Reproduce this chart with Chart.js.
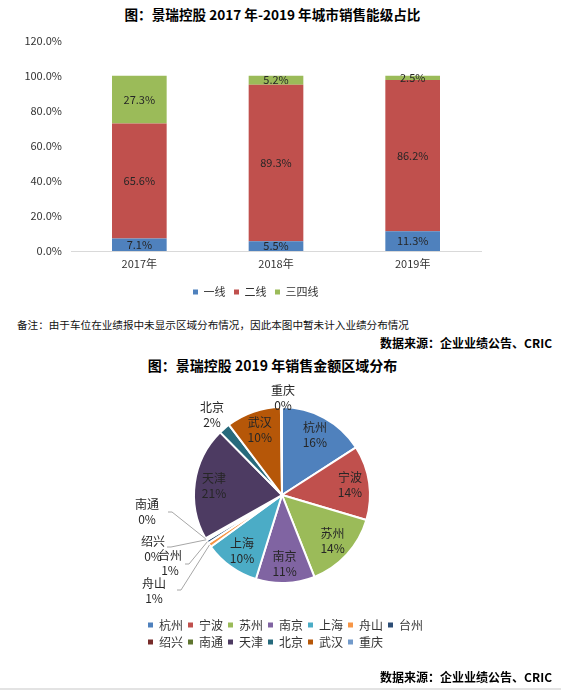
<!DOCTYPE html>
<html><head><meta charset="utf-8">
<script src="https://cdn.jsdelivr.net/npm/chart.js@4.4.1/dist/chart.umd.min.js"></script>
<style>
html,body{margin:0;padding:0;background:#fff;width:561px;height:690px;overflow:hidden;font-family:'Noto Sans CJK SC',sans-serif;}
.t{position:absolute;white-space:nowrap;color:#000;}
#title1{left:0;width:545px;text-align:center;top:6px;font-size:13.6px;line-height:16px;font-weight:bold;}
#title2{left:0;width:545px;text-align:center;top:357px;font-size:14px;line-height:16px;font-weight:bold;}
#note{left:17px;top:318px;font-size:10.6px;line-height:14px;color:#111;}
#src1{right:9px;top:336px;font-size:12px;line-height:14px;font-weight:bold;}
#src2{right:9px;top:670px;font-size:12px;line-height:14px;font-weight:bold;}
#bottomline{position:absolute;left:0;top:688px;width:561px;height:2px;background:#e3e3e3;}
.cw{position:absolute;left:0;}
</style>
</head><body>
<div class="t" id="title1">图：景瑞控股 2017 年-2019 年城市销售能级占比</div>
<div class="cw" style="top:25px"><canvas id="bar" width="561" height="290"></canvas></div>
<div class="t" id="note">备注：由于车位在业绩报中未显示区域分布情况，因此本图中暂未计入业绩分布情况</div>
<div class="t" id="src1">数据来源：企业业绩公告、CRIC</div>
<div class="t" id="title2">图：景瑞控股 2019 年销售金额区域分布</div>
<div class="cw" style="top:370px"><canvas id="pie" width="561" height="305"></canvas></div>
<div class="t" id="src2">数据来源：企业业绩公告、CRIC</div>
<div id="bottomline"></div>
<script>
// ---- data: bar chart ----
const years = ['2017年', '2018年', '2019年'];
const seriesNames = ['一线', '二线', '三四线'];
const tier1 = [7.1, 5.5, 11.3];
const tier2 = [65.6, 89.3, 86.2];
const tier34 = [27.3, 5.2, 2.5];
const yMax = 120;
const yStep = 20;

// ---- data: pie chart ----
const cities = ['杭州', '宁波', '苏州', '南京', '上海', '舟山', '台州', '绍兴', '南通', '天津', '北京', '武汉', '重庆'];
const cityShares = [15.9, 13.7, 14.4, 10.8, 10.2, 0.8, 0.6, 0.2, 0.2, 20.8, 2.1, 10.1, 0.2];

// ---- styles ----
const barColors = ['#4F81BD', '#C0504D', '#9BBB59'];
const cityColors = ['#4F81BD', '#C0504D', '#9BBB59', '#8064A2', '#4BACC6', '#F79646', '#2C4D75',
                    '#772C2A', '#5F7530', '#4D3B62', '#276A7C', '#B65708', '#729ACA'];
const FONT = "'Noto Sans CJK SC', sans-serif";
Chart.defaults.font.family = FONT;
Chart.defaults.color = '#333';

// outside label placement for the pie (offsets from pie centre, px)
const outsideLabels = {
  '重庆': {dx: 1, dy: -97},
  '北京': {dx: -70, dy: -80},
  '南通': {dx: -135, dy: 17, leader: [21, 0]},
  '绍兴': {dx: -129, dy: 54, leader: [14, -2]},
  '台州': {dx: -112, dy: 68, leader: [15, 1]},
  '舟山': {dx: -128, dy: 96, leader: [23, -1]}
};

const barLabels = {
  id: 'barLabels',
  afterDatasetsDraw(chart) {
    const ctx = chart.ctx;
    ctx.save();
    ctx.font = '11px ' + FONT;
    ctx.fillStyle = '#262626';
    ctx.textAlign = 'center';
    ctx.textBaseline = 'middle';
    chart.data.datasets.forEach((ds, di) => {
      chart.getDatasetMeta(di).data.forEach((bar, i) => {
        const p = bar.getProps(['x', 'y', 'base'], true);
        ctx.fillText(ds.data[i].toFixed(1) + '%', p.x, (p.y + p.base) / 2);
      });
    });
    ctx.restore();
  }
};

const pieLabels = {
  id: 'pieLabels',
  afterDatasetsDraw(chart) {
    const ctx = chart.ctx;
    const meta = chart.getDatasetMeta(0);
    const data = chart.data.datasets[0].data;
    const total = data.reduce((a, b) => a + b, 0);
    ctx.save();
    ctx.font = '12px ' + FONT;
    ctx.textAlign = 'center';
    ctx.textBaseline = 'middle';
    meta.data.forEach((arc, i) => {
      const p = arc.getProps(['x', 'y', 'startAngle', 'endAngle', 'outerRadius'], true);
      const mid = (p.startAngle + p.endAngle) / 2;
      const name = chart.data.labels[i];
      const pct = Math.round(data[i] / total * 100) + '%';
      const o = outsideLabels[name];
      let lx, ly;
      if (o) {
        lx = p.x + o.dx; ly = p.y + o.dy;
        if (o.leader) {
          const sx = lx + o.leader[0], sy = ly + o.leader[1];
          ctx.strokeStyle = '#a6a6a6';
          ctx.lineWidth = 1;
          ctx.beginPath();
          ctx.moveTo(sx, sy);
          ctx.lineTo(sx + 4, sy);
          ctx.lineTo(p.x + Math.cos(mid) * p.outerRadius, p.y + Math.sin(mid) * p.outerRadius);
          ctx.stroke();
        }
      } else {
        lx = p.x + Math.cos(mid) * p.outerRadius * 0.78;
        ly = p.y + Math.sin(mid) * p.outerRadius * 0.78;
      }
      ctx.fillStyle = '#262626';
      ctx.fillText(name, lx, ly - 7.5);
      ctx.fillText(pct, lx, ly + 7.5);
    });
    ctx.restore();
  }
};

new Chart(document.getElementById('bar'), {
  type: 'bar',
  data: {
    labels: years,
    datasets: [
      {label: seriesNames[0], data: tier1, backgroundColor: barColors[0]},
      {label: seriesNames[1], data: tier2, backgroundColor: barColors[1]},
      {label: seriesNames[2], data: tier34, backgroundColor: barColors[2]}
    ]
  },
  options: {
    responsive: false,
    animation: false,
    layout: {padding: {left: 0, right: 49.5, top: 14, bottom: 7.5}},
    datasets: {bar: {categoryPercentage: 1, barPercentage: 0.4}},
    scales: {
      x: {
        stacked: true,
        grid: {display: false, drawTicks: false},
        border: {color: '#d9d9d9'},
        ticks: {padding: 6.5, font: {size: 11}, color: '#333'},
        afterFit: s => { s.height = 27; }
      },
      y: {
        stacked: true, min: 0, max: yMax,
        grid: {display: false, drawTicks: false},
        border: {display: false},
        ticks: {stepSize: yStep, padding: 9, font: {size: 11}, color: '#333',
                callback: v => Number(v).toFixed(1) + '%'},
        afterFit: s => { s.width = 71; }
      }
    },
    plugins: {
      legend: {position: 'bottom',
               labels: {boxWidth: 5, boxHeight: 5, padding: 8.5, font: {size: 11}, color: '#333'}},
      title: {display: true, position: 'right', text: ' ', font: {size: 10},
              padding: {top: 9.25, bottom: 9.25, left: 0, right: 0}, color: 'rgba(0,0,0,0)'},
      tooltip: {enabled: false}
    }
  },
  plugins: [barLabels]
});

new Chart(document.getElementById('pie'), {
  type: 'pie',
  data: {
    labels: cities,
    datasets: [{data: cityShares, backgroundColor: cityColors, borderColor: '#fff', borderWidth: 2}]
  },
  options: {
    responsive: false,
    animation: false,
    radius: 88,
    layout: {padding: {left: 143, right: 118, top: 6, bottom: 17}},
    plugins: {
      legend: {
        position: 'bottom', align: 'start',
        labels: {
          boxWidth: 5, boxHeight: 5, padding: 5, font: {size: 12}, color: '#333',
          generateLabels: c => Chart.overrides.pie.plugins.legend.labels.generateLabels(c)
                                  .map(l => Object.assign(l, {lineWidth: 0}))
        }
      },
      title: {display: true, position: 'right', text: ' ', font: {size: 10}, padding: 5, color: 'rgba(0,0,0,0)'},
      tooltip: {enabled: false}
    }
  },
  plugins: [pieLabels]
});
</script>
</body></html>
